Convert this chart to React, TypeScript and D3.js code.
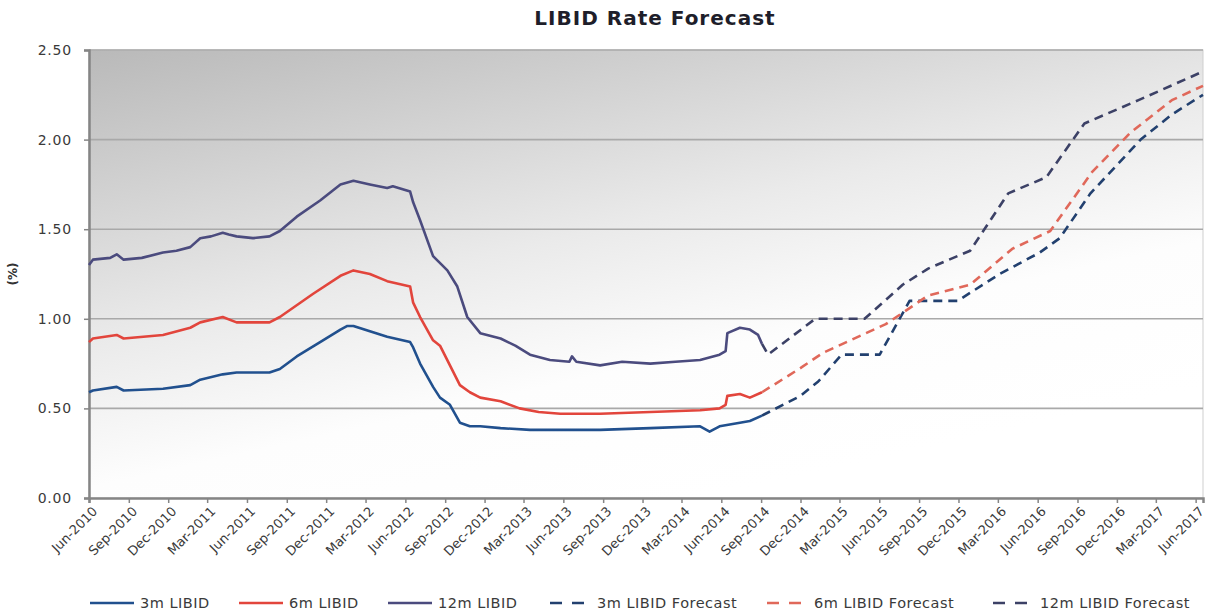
import React, { useEffect, useRef } from 'react';
import * as d3 from 'd3';

type Pt = [string, number];

// values, [date, %]
const hist3m: Pt[] = [
    ['2010-06-01', 0.59], ['2010-06-10', 0.60], ['2010-08-04', 0.62], ['2010-08-20', 0.60],
    ['2010-11-19', 0.61], ['2011-01-21', 0.63], ['2011-02-13', 0.66], ['2011-04-06', 0.69],
    ['2011-05-08', 0.70], ['2011-07-23', 0.70], ['2011-08-16', 0.72], ['2011-09-24', 0.79],
    ['2011-11-17', 0.87], ['2012-01-03', 0.94], ['2012-01-19', 0.96], ['2012-02-02', 0.96],
    ['2012-03-11', 0.93], ['2012-04-20', 0.90], ['2012-06-12', 0.87], ['2012-06-19', 0.84],
    ['2012-07-05', 0.75], ['2012-08-04', 0.62], ['2012-08-20', 0.56], ['2012-09-12', 0.52],
    ['2012-10-05', 0.42], ['2012-10-28', 0.40], ['2012-11-21', 0.40], ['2013-01-07', 0.39],
    ['2013-03-16', 0.38], ['2013-08-25', 0.38], ['2013-12-19', 0.39], ['2014-04-13', 0.40],
    ['2014-05-05', 0.37], ['2014-05-28', 0.40], ['2014-07-14', 0.42], ['2014-08-06', 0.43],
    ['2014-09-03', 0.46],
];

const hist6m: Pt[] = [
    ['2010-06-01', 0.87], ['2010-06-10', 0.89], ['2010-08-04', 0.91], ['2010-08-20', 0.89],
    ['2010-11-19', 0.91], ['2011-01-21', 0.95], ['2011-02-13', 0.98], ['2011-04-06', 1.01],
    ['2011-05-08', 0.98], ['2011-07-23', 0.98], ['2011-08-16', 1.01], ['2011-11-01', 1.14],
    ['2012-01-03', 1.24], ['2012-02-02', 1.27], ['2012-03-11', 1.25], ['2012-04-20', 1.21],
    ['2012-06-12', 1.18], ['2012-06-19', 1.09], ['2012-07-05', 1.01], ['2012-08-04', 0.88],
    ['2012-08-20', 0.85], ['2012-09-12', 0.74], ['2012-10-05', 0.63], ['2012-10-28', 0.59],
    ['2012-11-21', 0.56], ['2013-01-07', 0.54], ['2013-02-20', 0.50], ['2013-04-05', 0.48],
    ['2013-05-25', 0.47], ['2013-08-25', 0.47], ['2013-12-19', 0.48], ['2014-04-13', 0.49],
    ['2014-05-28', 0.50], ['2014-06-11', 0.52], ['2014-06-15', 0.57], ['2014-07-14', 0.58],
    ['2014-08-06', 0.56], ['2014-09-03', 0.59],
];

const hist12m: Pt[] = [
    ['2010-06-01', 1.30], ['2010-06-10', 1.33], ['2010-07-20', 1.34], ['2010-08-04', 1.36],
    ['2010-08-20', 1.33], ['2010-10-01', 1.34], ['2010-11-19', 1.37], ['2010-12-20', 1.38],
    ['2011-01-21', 1.40], ['2011-02-13', 1.45], ['2011-03-10', 1.46], ['2011-04-06', 1.48],
    ['2011-04-20', 1.47], ['2011-05-08', 1.46], ['2011-06-15', 1.45], ['2011-07-23', 1.46],
    ['2011-08-16', 1.49], ['2011-09-24', 1.57], ['2011-11-17', 1.66], ['2012-01-03', 1.75],
    ['2012-02-02', 1.77], ['2012-03-11', 1.75], ['2012-04-20', 1.73], ['2012-05-03', 1.74],
    ['2012-06-12', 1.71], ['2012-06-19', 1.65], ['2012-07-05', 1.55], ['2012-08-04', 1.35],
    ['2012-09-06', 1.27], ['2012-09-29', 1.18], ['2012-10-22', 1.01], ['2012-11-21', 0.92],
    ['2013-01-07', 0.89], ['2013-02-10', 0.85], ['2013-03-16', 0.80], ['2013-05-01', 0.77],
    ['2013-06-15', 0.76], ['2013-06-21', 0.79], ['2013-07-01', 0.76], ['2013-08-25', 0.74],
    ['2013-10-15', 0.76], ['2013-12-19', 0.75], ['2014-02-15', 0.76], ['2014-04-13', 0.77],
    ['2014-05-28', 0.80], ['2014-06-11', 0.82], ['2014-06-15', 0.92], ['2014-07-14', 0.95],
    ['2014-08-06', 0.94], ['2014-08-25', 0.91], ['2014-09-03', 0.86],
];

const fc3m: Pt[] = [
    ['2014-09-03', 0.46], ['2014-12-01', 0.57], ['2015-01-11', 0.65], ['2015-03-06', 0.80],
    ['2015-06-02', 0.80], ['2015-08-10', 1.10], ['2015-11-29', 1.10], ['2016-03-05', 1.25],
    ['2016-06-06', 1.37], ['2016-07-22', 1.45], ['2016-10-01', 1.70], ['2017-01-25', 2.00],
    ['2017-04-07', 2.14], ['2017-06-18', 2.25],
];

const fc6m: Pt[] = [
    ['2014-09-03', 0.59], ['2014-12-04', 0.73], ['2015-01-22', 0.81], ['2015-06-16', 0.97],
    ['2015-09-22', 1.13], ['2015-12-28', 1.19], ['2016-04-03', 1.39], ['2016-06-30', 1.49],
    ['2016-10-05', 1.82], ['2017-01-02', 2.04], ['2017-04-07', 2.22], ['2017-06-18', 2.30],
];

const fc12m: Pt[] = [
    ['2014-09-03', 0.86], ['2014-09-17', 0.80], ['2015-01-04', 1.00], ['2015-04-28', 1.00],
    ['2015-07-25', 1.19], ['2015-09-22', 1.28], ['2015-12-28', 1.38], ['2016-03-25', 1.70],
    ['2016-06-21', 1.79], ['2016-09-17', 2.09], ['2017-01-20', 2.22], ['2017-06-18', 2.38],
];

const labels = ['3m LIBID', '6m LIBID', '12m LIBID', '3m LIBID Forecast', '6m LIBID Forecast', '12m LIBID Forecast'];
const yTicks = [0, 0.5, 1.0, 1.5, 2.0, 2.5];

const seriesData = [hist3m, hist6m, hist12m, fc3m, fc6m, fc12m];
const colors = ['#21508e', '#e2453c', '#4b4b7e', '#22406f', '#e0685a', '#3c4166'];
const dashed = [false, false, false, true, true, true];

const W = 1209;
const H = 612;
const FONT = '"DejaVu Sans", Verdana, sans-serif';

const App: React.FC = () => {
    const svgRef = useRef<SVGSVGElement>(null);

    useEffect(() => {
        if (!svgRef.current) return;
        const svg = d3.select(svgRef.current);
        svg.selectAll('*').remove();

        const parse = d3.timeParse('%Y-%m-%d');
        const left = 89, right = 1203, top = 50, bottom = 498;

        const x = d3.scaleTime()
            .domain([parse('2010-06-01')!, parse('2017-06-18')!])
            .range([left, right]);
        const y = d3.scaleLinear().domain([0, 2.5]).range([bottom, top]);

        const defs = svg.append('defs');
        const grad = defs.append('linearGradient')
            .attr('id', 'bg')
            .attr('x1', 0).attr('y1', 0).attr('x2', 0.55).attr('y2', 1);
        grad.append('stop').attr('offset', 0).attr('stop-color', '#b9b9b9');
        grad.append('stop').attr('offset', 0.5).attr('stop-color', '#eaeaea');
        grad.append('stop').attr('offset', 0.75).attr('stop-color', '#fdfdfd');
        grad.append('stop').attr('offset', 1).attr('stop-color', '#ffffff');

        svg.append('rect')
            .attr('x', left).attr('y', top)
            .attr('width', right - left).attr('height', bottom - top)
            .attr('fill', 'url(#bg)')
            .attr('stroke', '#cfcfcf').attr('stroke-width', 1);

        // gridlines
        svg.append('g').selectAll('line')
            .data(yTicks.filter(t => t > 0))
            .join('line')
            .attr('x1', left).attr('x2', right)
            .attr('y1', d => y(d)).attr('y2', d => y(d))
            .attr('stroke', '#a9a9a9').attr('stroke-width', 1.6);

        // y axis
        const yAxis = svg.append('g')
            .attr('transform', `translate(${left},0)`)
            .call(d3.axisLeft(y).tickValues(yTicks).tickFormat(d3.format('.2f')).tickSize(5).tickPadding(12));
        yAxis.select('.domain').attr('stroke', '#858585').attr('stroke-width', 2.5);
        yAxis.selectAll('.tick line').attr('stroke', '#858585').attr('stroke-width', 1.5);
        yAxis.selectAll('.tick text')
            .attr('font-family', FONT).attr('font-size', 14).attr('letter-spacing', 0.8)
            .attr('fill', '#3a3a3a');

        // x axis
        const xTicks = d3.timeMonth.range(parse('2010-06-01')!, parse('2017-06-02')!, 3);
        const xAxis = svg.append('g')
            .attr('transform', `translate(0,${bottom})`)
            .call(d3.axisBottom(x).tickValues(xTicks).tickSize(5).tickFormat(() => ''));
        xAxis.select('.domain').attr('stroke', '#858585').attr('stroke-width', 2.5);
        xAxis.selectAll('.tick line').attr('stroke', '#858585').attr('stroke-width', 1.5);

        const fmt = d3.timeFormat('%b-%Y');
        svg.append('g').selectAll('text')
            .data(xTicks)
            .join('text')
            .attr('transform', d => `translate(${x(d) + 6},${bottom + 11}) rotate(-45)`)
            .attr('text-anchor', 'end')
            .attr('dy', '0.35em')
            .attr('font-family', FONT).attr('font-size', 13).attr('fill', '#3a3a3a')
            .text(d => fmt(d));

        // lines
        const line = d3.line<Pt>()
            .x(d => x(parse(d[0])!))
            .y(d => y(d[1]));

        seriesData.forEach((data, i) => {
            svg.append('path')
                .datum(data)
                .attr('fill', 'none')
                .attr('stroke', colors[i])
                .attr('stroke-width', 2.6)
                .attr('stroke-linejoin', 'round')
                .attr('stroke-dasharray', dashed[i] ? '9,6' : null)
                .attr('d', line);
        });

        // title
        svg.append('text')
            .attr('x', 655).attr('y', 25)
            .attr('text-anchor', 'middle')
            .attr('font-family', FONT).attr('font-weight', 'bold').attr('font-size', 20)
            .attr('letter-spacing', 1)
            .attr('fill', '#1e1e2a')
            .text('LIBID Rate Forecast');

        svg.append('text')
            .attr('transform', `translate(17,${(top + bottom) / 2}) rotate(-90)`)
            .attr('text-anchor', 'middle')
            .attr('font-family', FONT).attr('font-weight', 'bold').attr('font-size', 12)
            .attr('fill', '#333')
            .text('(%)');

        // legend
        const legendX = [90, 239, 388, 550, 767, 993];
        const ly = 603;
        const lg = svg.append('g');
        labels.forEach((lab, i) => {
            const x0 = legendX[i];
            const len = dashed[i] ? 35 : 44;
            lg.append('line')
                .attr('x1', x0).attr('x2', x0 + len)
                .attr('y1', ly).attr('y2', ly)
                .attr('stroke', colors[i]).attr('stroke-width', 2.6)
                .attr('stroke-dasharray', dashed[i] ? '12,10' : null);
            lg.append('text')
                .attr('x', x0 + len + (dashed[i] ? 12 : 6)).attr('y', ly)
                .attr('dy', '0.35em')
                .attr('font-family', FONT).attr('font-size', 14.5).attr('letter-spacing', 0.5)
                .attr('fill', '#3a3a3a')
                .text(lab);
        });
    }, []);

    return (
        <svg ref={svgRef} width={W} height={H}
            style={{ position: 'absolute', left: 0, top: 0, background: '#fff' }} />
    );
};

export default App;
